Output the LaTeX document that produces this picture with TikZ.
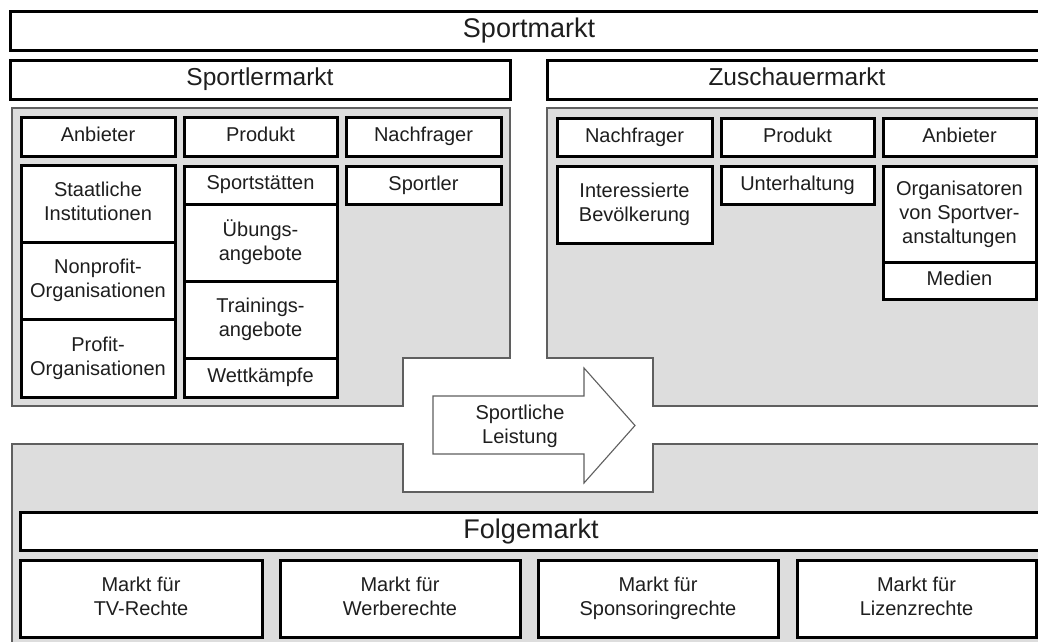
\documentclass[tikz,border=0pt]{standalone}
\usepackage{fontspec}
\setmainfont{Liberation Sans}
\usepackage{tikz}

\definecolor{panelgray}{RGB}{221,221,221}
\definecolor{panelline}{RGB}{95,95,95}
\definecolor{textgray}{RGB}{30,30,30}

\newcommand{\cellfont}{\fontsize{20}{24}\selectfont}
\newcommand{\bigheadfont}{\fontsize{27}{31}\selectfont}
\newcommand{\midheadfont}{\fontsize{24.5}{28}\selectfont}

\tikzset{
    panel/.style={fill=panelgray, draw=panelline, line width=1.2pt},
    cell/.style={draw=black, line width=3pt, fill=white, align=center,
                 inner sep=0pt, text depth=4.5pt, text=textgray, font=\cellfont},
    headcell/.style={cell, text depth=5.5pt, font=\midheadfont},
    arrowline/.style={draw=panelline, line width=1.1pt, fill=white}
}

\begin{document}
\begin{tikzpicture}[x=1pt, y=-1pt]
    \useasboundingbox (0,0) rectangle (1038,641);
    \fill[white] (0,0) rectangle (1038,641);

    % Grey panels
    \draw[panel] (12,108) -- (510,108) -- (510,358) -- (403,358)
        -- (403,406) -- (12,406) -- cycle;
    \draw[panel] (547,108) -- (1050,108) -- (1050,406) -- (653,406)
        -- (653,358) -- (547,358) -- cycle;
    \draw[panel] (12,444) -- (403,444) -- (403,492) -- (653,492)
        -- (653,444) -- (1050,444) -- (1050,660) -- (12,660) -- cycle;

    % Title bars
    \node[headcell, font=\bigheadfont, minimum width=1038pt, minimum height=39pt]
        (sportmarkt) at (529,30.5) {Sportmarkt};
    \node[headcell, minimum width=500pt, minimum height=39pt]
        (sportlermarkt) at (260,79.5) {Sportlermarkt};
    \node[headcell, minimum width=500pt, minimum height=39pt]
        (zuschauermarkt) at (797,79.5) {Zuschauermarkt};
    \node[headcell, font=\bigheadfont, minimum width=1022pt, minimum height=38pt]
        (folgemarkt) at (531,531) {Folgemarkt};

    % Sportlermarkt: column heads and entries
    \foreach \name/\xc/\yc/\w/\h/\txt in {
        anb-l/98/136.5/154/39/{Anbieter},
        prod-l/260.5/136.5/153/39/{Produkt},
        nach-l/423.5/136.5/155/39/{Nachfrager},
        staat/98/203.5/154/77/{Staatliche\\Institutionen},
        nonprofit/98/280.5/154/77/{Nonprofit-\\Organisationen},
        profit/98/358/154/78/{Profit-\\Organisationen},
        staetten/260.5/185/153/38/{Sportstätten},
        uebung/260.5/242.5/153/77/{Übungs-\\angebote},
        training/260.5/319.5/153/77/{Trainings-\\angebote},
        wettkampf/260.5/377.5/153/39/{Wettkämpfe},
        sportler/423.5/185/155/38/{Sportler}} {
        \node[cell, minimum width=\w pt, minimum height=\h pt]
            (\name) at (\xc,\yc) {\txt};
    }

    % Zuschauermarkt: column heads and entries
    \foreach \name/\xc/\yc/\w/\h/\txt in {
        nach-r/634.5/137/155/38/{Nachfrager},
        prod-r/797.5/137/153/38/{Produkt},
        anb-r/959.5/137/153/38/{Anbieter},
        bevoelkerung/634.5/204.5/155/77/{Interessierte\\Bevölkerung},
        unterhaltung/797.5/185/153/38/{Unterhaltung},
        organisatoren/959.5/214/153/96/{Organisatoren\\von Sportver-\\anstaltungen},
        medien/959.5/280.5/153/37/{Medien}} {
        \node[cell, minimum width=\w pt, minimum height=\h pt]
            (\name) at (\xc,\yc) {\txt};
    }

    % Folgemarkt entries
    \foreach \name/\xc/\w/\txt in {
        tv/141/242/{TV-Rechte},
        werbung/400/240/{Werberechte},
        sponsoring/658/240/{Sponsoringrechte},
        lizenz/916.5/239/{Lizenzrechte}} {
        \node[cell, minimum width=\w pt, minimum height=77pt]
            (markt-\name) at (\xc,598.5) {Markt für\\\txt};
    }

    % Arrow between the markets
    \draw[arrowline] (433,396) -- (584,396) -- (584,368) -- (635,425.5)
        -- (584,483) -- (584,454) -- (433,454) -- cycle;
    \node[align=center, font=\cellfont, text=textgray, inner sep=0pt]
        (leistung) at (520,426) {Sportliche\\Leistung};
\end{tikzpicture}
\end{document}
